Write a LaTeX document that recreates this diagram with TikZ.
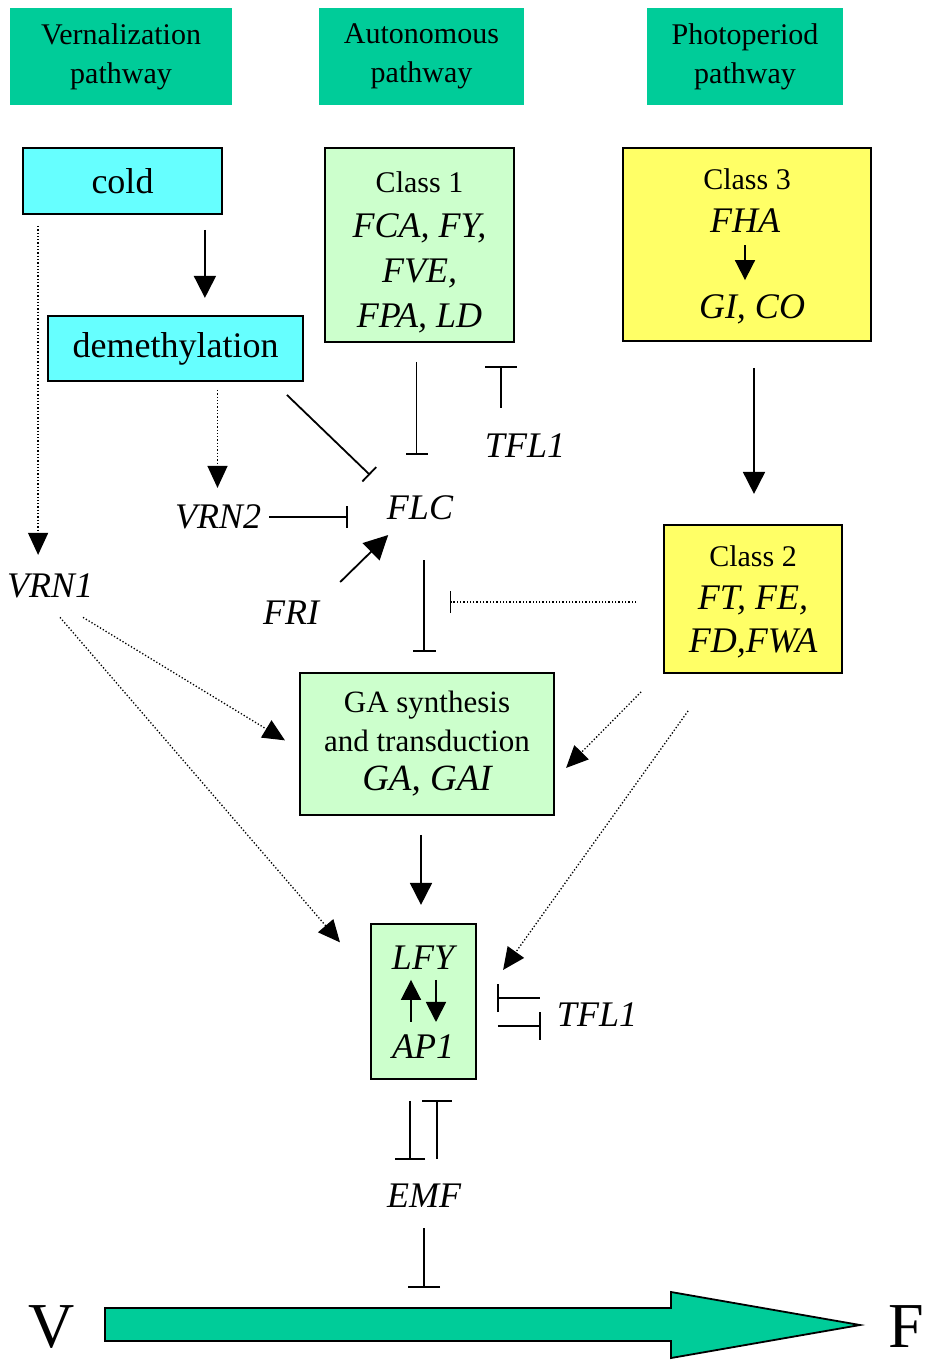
\documentclass[tikz,border=0pt]{standalone}
\usepackage{fontspec}
\setmainfont{Liberation Serif}
\usetikzlibrary{arrows.meta}

\definecolor{pathgreen}{RGB}{0,204,153}
\definecolor{coldcyan}{RGB}{102,255,255}
\definecolor{palegreen}{RGB}{204,255,204}
\definecolor{paleyellow}{RGB}{255,255,102}

\begin{document}
\begin{tikzpicture}[x=1pt,y=-1pt,
  head/.style={fill=pathgreen,align=center,font=\fontsize{30}{39}\selectfont,minimum height=97pt},
  gbox/.style={draw,line width=1.8pt,align=center},
  lab/.style={inner sep=0pt,font=\fontsize{36}{44}\selectfont\itshape},
  act/.style={line width=1.8pt,-{Triangle[length=22pt,width=22pt]}},
  dotact/.style={line width=1.3pt,dotted,-{Triangle[length=22pt,width=20pt]}},
  inh/.style={line width=1.8pt,-{Bar[width=#1]}},
  inh/.default=22pt,
  dotinh/.style={line width=1.3pt,dotted,-{Bar[width=22pt]}}]
\useasboundingbox (0,0) rectangle (934,1360);

% pathway headers
\node[head,minimum width=222pt] (vern) at (121,56.5) {Vernalization\\pathway};
\node[head,minimum width=205pt] (auto) at (421.5,56.5) {Autonomous\\pathway};
\node[head,minimum width=196pt] (photo) at (745,56.5) {Photoperiod\\pathway};

% boxes
\node[gbox,fill=coldcyan,minimum width=199pt,minimum height=66pt,font=\fontsize{36}{40}\selectfont] (cold) at (122.5,181) {cold};
\node[gbox,fill=coldcyan,minimum width=255pt,minimum height=65pt,font=\fontsize{36}{40}\selectfont] (demeth) at (175.5,348.5) {demethylation};
\node[gbox,fill=palegreen,minimum width=189pt,minimum height=194pt] (class1) at (419.5,245) {};
\node[align=center,inner sep=0pt,font=\fontsize{36}{45}\selectfont\itshape] (c1txt) at (419.5,252)
  {{\upshape\fontsize{30}{45}\selectfont Class 1}\\FCA, FY,\\FVE,\\FPA, LD};
\node[gbox,fill=paleyellow,minimum width=248pt,minimum height=193pt] (class3) at (747,244.5) {};
\node[inner sep=0pt,font=\fontsize{30}{36}\selectfont] (c3lab) at (747,179) {Class 3};
\node[lab] (fha) at (745,221) {FHA};
\node[lab] (gico) at (752,309) {GI, CO};
\node[gbox,fill=paleyellow,minimum width=178pt,minimum height=148pt] (class2) at (753,599) {};
\node[align=center,inner sep=0pt,font=\fontsize{36}{43}\selectfont\itshape] (c2txt) at (753,602)
  {{\upshape\fontsize{30}{43}\selectfont Class 2}\\FT, FE,\\FD,FWA};
\node[gbox,fill=palegreen,minimum width=254pt,minimum height=142pt,font=\fontsize{31}{39}\selectfont] (ga) at (427,744)
  {GA synthesis\\and transduction\\{\itshape\fontsize{37}{39}\selectfont GA, GAI}};
\node[gbox,fill=palegreen,minimum width=105pt,minimum height=155pt] (lfybox) at (423.5,1001.5) {};
\node[lab] (lfy) at (423,958) {LFY};
\node[lab] (ap1) at (423,1047) {AP1};

% gene labels
\node[lab] (flc) at (420,508) {FLC};
\node[lab] (vrn2) at (218,517) {VRN2};
\node[lab] (vrn1) at (50,586) {VRN1};
\node[lab] (fri) at (291,613) {FRI};
\node[lab] (tfl1a) at (525,446) {TFL1};
\node[lab] (tfl1b) at (597,1015) {TFL1};
\node[lab] (emf) at (424,1196) {EMF};

% vegetative -> flowering
\draw[line width=1.8pt,fill=pathgreen] (105,1308) -- (671,1308) -- (671,1292) -- (860,1325) -- (671,1358) -- (671,1341) -- (105,1341) -- cycle;
\node[inner sep=0pt,font=\fontsize{64}{64}\selectfont] (veg) at (52,1327) {V};
\node[inner sep=0pt,font=\fontsize{64}{64}\selectfont] (flw) at (906,1327) {F};

% activation
\draw[act] (cold.south east) ++(-18,15) -- ++(0,68);
\draw[act] (class3.south) ++(7,26) -- ++(0,126);
\draw[act,-{Triangle[length=20pt,width=20pt]}] (fha.south) ++(0,12) -- ++(0,35);
\draw[act,-{Triangle[length=24pt,width=24pt]}] (fri.north east) ++(21,-19) -- ++(48,-47);
\draw[act] (ga.south) ++(-6,19) -- ++(0,70);
\draw[act,-{Triangle[length=20pt,width=20pt]}] (ap1.north) ++(-12,-13) -- ++(0,-42);
\draw[act,-{Triangle[length=20pt,width=20pt]}] (lfy.south) ++(13,10) -- ++(0,42);

% dotted activation
\draw[dotact] (cold.south west) ++(16,11) -- ++(0,329);
\draw[dotact] (demeth.south) ++(42,8) -- ++(0,98);
\draw[dotact] (vrn1.south) ++(33,19) -- ++(202,123);
\draw[dotact] (vrn1.south) ++(10,19) -- ++(280,325);
\draw[dotact] (class2.south west) ++(-22,18) -- ++(-75,76);
\draw[dotact] (class2.south west) ++(25,37) -- ++(-185,259);

% repression
\draw[inh=20pt] (demeth.south east) ++(-17,13) -- ++(83,80);
\draw[inh] (vrn2.east) ++(8,0) -- ++(79,0);
\draw[inh] (class1.south) ++(-3,19) -- ++(0,93);
\draw[inh=32pt] (tfl1a.north) ++(-24,-26) -- ++(0,-42);
\draw[inh=23pt] (flc.south) ++(4,40) -- ++(0,92);
\draw[dotinh] (class2.west) ++(-27,3) -- ++(-186,0);
\draw[inh=28pt] (tfl1b.west) ++(-17,-17) -- ++(-43,0);
\draw[inh=28pt] (lfybox.east) ++(21,24.5) -- ++(43,0);
\draw[inh=30pt] (lfybox.south) ++(-13.5,21) -- ++(0,59);
\draw[inh=30pt] (emf.north) ++(13,-25) -- ++(0,-59);
\draw[inh=32pt] (emf.south) ++(0,20) -- ++(0,60);
\end{tikzpicture}
\end{document}
